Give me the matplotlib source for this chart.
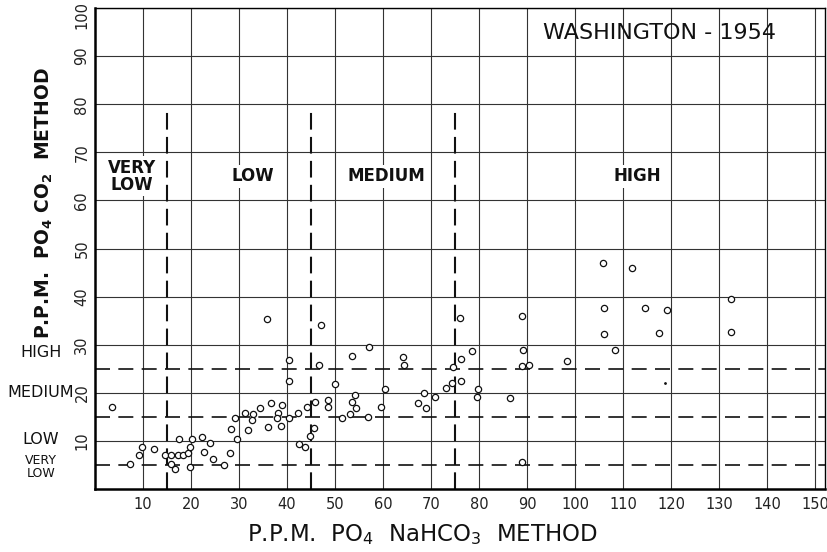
import matplotlib.pyplot as plt
from matplotlib.transforms import blended_transform_factory, ScaledTranslation

plt.rcParams['font.family'] = ['DejaVu Sans']
plt.rcParams['mathtext.default'] = 'regular'

# PO4 by NaHCO3 method (x) vs CO2 method (y), Washington 1954
x_vals = [3.5, 7.3, 9.1, 9.7, 12.3, 14.6, 15.9, 17.2, 18.4, 15.9, 16.6, 17.5,
          19.4, 19.8, 20.2, 19.8, 22.3, 22.7, 23.9, 24.6, 26.9, 28.2, 28.4, 29.1,
          29.6, 31.2, 32.8, 32.6, 31.9, 34.3, 36.6, 38.1, 39.0, 37.9, 36.0, 38.7,
          40.3, 42.3, 44.2, 45.9, 48.5, 48.6, 45.7, 44.8, 42.5, 43.7, 51.4, 53.0,
          53.5, 54.4, 54.2, 56.8, 59.6, 35.9, 47.0, 40.3, 46.6, 40.4, 53.5, 57.0,
          49.9, 60.4, 76.1, 88.9, 64.2, 64.4, 78.5, 76.2, 74.5, 74.4, 76.2, 73.1,
          79.7, 79.5, 89.2, 88.9, 90.4, 68.6, 70.7, 67.2, 69.0, 86.4, 89.0,
          105.7, 111.9, 105.9, 114.6, 119.1, 106.0, 117.5, 108.3, 98.2, 132.4, 132.5]
y_vals = [17.0, 5.3, 7.1, 8.8, 8.3, 7.1, 7.1, 7.1, 7.1, 5.3, 4.1, 10.4,
          7.5, 8.8, 10.3, 4.6, 10.9, 7.6, 9.5, 6.2, 5.0, 7.4, 12.5, 14.7,
          10.4, 15.9, 15.6, 14.3, 12.3, 16.8, 17.9, 15.9, 17.4, 14.7, 12.8, 13.0,
          14.7, 15.9, 17.1, 18.0, 18.5, 17.1, 12.6, 11.0, 9.4, 8.7, 14.7, 15.6,
          18.0, 16.9, 19.5, 15.0, 17.0, 35.3, 34.0, 26.8, 25.8, 22.5, 27.7, 29.6,
          21.8, 20.7, 35.6, 36.0, 27.5, 25.8, 28.7, 27.0, 25.4, 22.1, 22.5, 20.9,
          20.7, 19.1, 28.8, 25.6, 25.7, 19.9, 19.2, 17.8, 16.8, 18.9, 5.7,
          46.9, 46.0, 37.6, 37.7, 37.2, 32.2, 32.4, 29.0, 26.7, 39.6, 32.7]
stray_x = [118.7]
stray_y = [22.0]

x_ticks = list(range(10, 160, 10))
y_ticks = list(range(10, 110, 10))
class_bounds = [15, 45, 75]          # NaHCO3 method class limits
co2_bounds = [5, 15, 25]             # CO2 method class limits
x_classes = [('VERY\nLOW', 7.7), ('LOW', 32.8), ('MEDIUM', 60.7), ('HIGH', 113)]
y_classes = [('HIGH', 28.3), ('MEDIUM', 20), ('LOW', 10.2), ('VERY\nLOW', 4.6)]

fig = plt.figure(figsize=(8.28, 5.52), dpi=100)
ax = fig.add_axes([0.1147, 0.1141, 0.8817, 0.8714])
ax.set_xlim(0, 152)
ax.set_ylim(0, 100)

ax.set_xticks(x_ticks)
ax.set_yticks(y_ticks)
ax.tick_params(length=0, labelsize=10.5, colors='#222')
ax.tick_params(axis='x', pad=6)
ax.tick_params(axis='y', pad=4)
ylabs = ax.get_yticklabels()
for lab in ylabs:
    lab.set_rotation(90)
    lab.set_va('center')
# top label sits a little below the frame, as in the original
ylabs[-1].set_transform(ylabs[-1].get_transform()
                        + ScaledTranslation(0, -5 / 72, fig.dpi_scale_trans))
ax.grid(True, color='#333', lw=0.8)
ax.set_axisbelow(True)

for s in ['top', 'right']:
    ax.spines[s].set_linewidth(1.0)
for s in ['left', 'bottom']:
    ax.spines[s].set_linewidth(1.8)

for xb in class_bounds:
    ax.plot([xb, xb], [0, 79], color='#111', lw=1.5, dashes=(8, 3.5))
for yb in co2_bounds:
    ax.plot([0, 152], [yb, yb], color='#111', lw=1.2, dashes=(9, 5))

ax.plot(x_vals, y_vals, 'o', mfc='white', mec='#111', mew=0.9, ms=4.5)
ax.plot(stray_x, stray_y, '.', color='#111', ms=2)

for txt, xc in x_classes:
    ax.text(xc, 65, txt, ha='center', va='center', fontsize=12,
            fontweight='bold', linespacing=0.9, color='#111',
            bbox=dict(facecolor='white', edgecolor='none', pad=2))

ax.text(117.5, 94.8, 'WASHINGTON - 1954', ha='center', va='center',
        fontsize=16, color='#111')

tr = blended_transform_factory(fig.transFigure, ax.transData)
for txt, yc in y_classes:
    ax.text(0.0495, yc, txt, transform=tr, ha='center', va='center',
            fontsize=11.5 if txt != 'VERY\nLOW' else 9, linespacing=1.0,
            color='#111', clip_on=False)

fig.text(0.053, 0.632, r'P.P.M.  PO$_4$ CO$_2$  METHOD', rotation=90,
         ha='center', va='center', fontsize=13.5, fontweight='bold', color='#111')
fig.text(0.51, 0.031, r'P.P.M.  PO$_4$  NaHCO$_3$  METHOD',
         ha='center', va='center', fontsize=16.5, color='#111')

fig.savefig('out.png', dpi=100)
